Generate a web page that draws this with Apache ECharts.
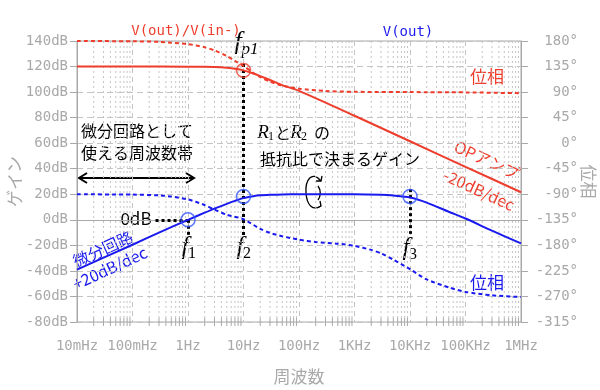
<!DOCTYPE html>
<html><head><meta charset="utf-8">
<script src="https://cdn.jsdelivr.net/npm/echarts@6/dist/echarts.min.js"></script>
<style>html,body{margin:0;padding:0;background:#fff}#c{width:600px;height:390px}</style>
</head><body><div id="c"></div>
<script>
// ---- data ----
const freqTickLabels = ['10mHz','100mHz','1Hz','10Hz','100Hz','1KHz','10KHz','100KHz','1MHz'];
const opGainFreq = [0.01, 0.1, 1, 2, 3, 5, 7, 10, 15, 20, 30, 50, 100, 1000, 1e4, 1e5, 1e6];
const opGainDb   = [120, 120, 119.9, 119.8, 119.6, 119, 118.3, 117, 114.5, 112.5, 109.5, 105.5, 101, 81.5, 61.5, 41.5, 21.6];
const opPhaseFreq = [0.01, 0.1, 0.3, 0.5, 1, 2, 3, 5, 7, 10, 15, 20, 30, 50, 100, 300, 1000, 1e4, 1e5, 1e6];
const opPhaseDeg  = [180, 179.5, 178.5, 177, 174.5, 169, 163.5, 153.5, 145, 136, 124, 116.5, 108.5, 101.5, 96, 92, 90.5, 90, 89.5, 88];
const outGainFreq = [0.01, 0.1, 0.3, 1, 2, 3, 5, 7, 10, 15, 20, 30, 50, 100, 1000, 3000, 5000, 1e4, 2e4, 5e4, 1e5, 3e5, 1e6];
const outGainDb   = [-39, -19.5, -10, 0, 5.6, 8.8, 12.5, 14.8, 17, 18.5, 19.2, 19.6, 19.9, 20, 20, 19.6, 19, 17.5, 13.5, 6.3, 1, -8.5, -18.5];
const outPhaseFreq = [0.01, 0.1, 0.3, 0.5, 1, 2, 3, 5, 10, 20, 30, 50, 100, 200, 500, 1000, 2000, 3000, 5000, 1e4, 2e4, 5e4, 1e5, 3e5, 1e6];
const outPhaseDeg  = [-90, -90.6, -92, -94, -99, -109, -117, -126, -134, -151, -158, -164, -170, -174, -177, -181, -188, -194, -205, -222, -240, -254, -262, -268, -271];
const opMarker = [[10, 117]];
const outMarkers = [[1, 0], [10, 18.3], [10000, 18.3]];
// ---- style ----
const RED = '#ee3d2c', BLUE = '#1a1aee', GRAY = '#a9a9a9', GRID = '#c4c4c4';
const MONO = 'DejaVu Sans Mono', JP = 'Noto Sans CJK JP', SERIF = 'Liberation Serif';

const minorFreqs = [];
for (let e = -2; e < 6; e++) for (let k = 2; k <= 9; k++) minorFreqs.push([k * Math.pow(10, e), 140]);

function zip(a, b) { return a.map((v, i) => [v, b[i]]); }

const chart = echarts.init(document.getElementById('c'));
const txt = (text, x, y, o) => Object.assign({
  type: 'text', x: x, y: y, silent: true,
  style: Object.assign({ text: text, fill: '#000', font: '16px "' + JP + '"', align: 'center', verticalAlign: 'middle' }, o || {})
});
const dotted = { color: '#000', width: 3, type: [3, 3] };
const curve = (x1, y1, c1x, c1y, c2x, c2y, x2, y2) => ({ type: 'bezierCurve', silent: true,
  shape: { x1: x1, y1: y1, cpx1: c1x, cpy1: c1y, cpx2: c2x, cpy2: c2y, x2: x2, y2: y2 },
  style: { stroke: '#000', lineWidth: 1.3, fill: null } });
const lineSeries = (fx, vy, axis, color, dashed) => ({
  type: 'line', yAxisIndex: axis, data: zip(fx, vy), symbol: 'none', smooth: 0.25, z: 5,
  lineStyle: { color: color, width: 2, type: dashed ? [4, 3] : 'solid' }
});

chart.setOption({
  animation: false,
  grid: { left: 77, right: 79, top: 41, bottom: 68, outerBoundsMode: 'none', containLabel: false,
    show: true, borderColor: GRAY, borderWidth: 1 },
  xAxis: {
    type: 'log', logBase: 10, min: 0.01, max: 1e6,
    name: '周波数', nameLocation: 'middle', nameGap: 46, nameMoveOverlap: false,
    nameTextStyle: { color: GRAY, fontFamily: JP, fontSize: 17 },
    axisLine: { lineStyle: { color: GRAY } },
    axisTick: { length: 6, lineStyle: { color: GRAY } },
    axisLabel: { color: GRAY, fontFamily: MONO, fontSize: 14, margin: 17,
      formatter: v => freqTickLabels[Math.round(Math.log10(v)) + 2] },
    splitLine: { show: true, lineStyle: { color: GRID, type: [5, 4] } }
  },
  yAxis: [{
    type: 'value', min: -80, max: 140, interval: 20,
    name: 'ゲイン', nameLocation: 'middle', nameGap: 54, nameRotate: 90, nameMoveOverlap: false,
    nameTextStyle: { color: GRAY, fontFamily: JP, fontSize: 17 },
    axisLine: { show: true, lineStyle: { color: GRAY } },
    axisTick: { show: true, length: 7, lineStyle: { color: GRAY } },
    axisLabel: { color: GRAY, fontFamily: MONO, fontSize: 14, margin: 9, formatter: v => v + 'dB' },
    splitLine: { show: true, lineStyle: { color: GRID, type: [6, 4] } }
  }, {
    type: 'value', min: -315, max: 180, interval: 45, position: 'right',
    name: '位相', nameLocation: 'middle', nameGap: 59, nameRotate: -90, nameMoveOverlap: false,
    nameTextStyle: { color: GRAY, fontFamily: JP, fontSize: 17 },
    axisLine: { show: true, lineStyle: { color: GRAY } },
    axisTick: { show: true, length: 7, lineStyle: { color: GRAY } },
    axisLabel: { color: GRAY, fontFamily: MONO, fontSize: 14, margin: 57, align: 'right', formatter: v => v + '°' },
    splitLine: { show: false }
  }],
  series: [
    { type: 'custom', silent: true, z: 1, xAxisIndex: 0, yAxisIndex: 0, data: minorFreqs,
      renderItem: (params, api) => {
        const top = api.coord([api.value(0), 140]);
        const bot = api.coord([api.value(0), -80]);
        return { type: 'group', children: [
          { type: 'line', shape: { x1: top[0], y1: top[1], x2: bot[0], y2: bot[1] },
            style: { stroke: GRID, lineWidth: 1, lineDash: [2, 3] } },
          { type: 'line', shape: { x1: bot[0], y1: bot[1] - 4, x2: bot[0], y2: bot[1] + 4 },
            style: { stroke: GRAY, lineWidth: 1 } }
        ] };
      } },
    lineSeries(opGainFreq, opGainDb, 0, RED, false),
    lineSeries(opPhaseFreq, opPhaseDeg, 1, RED, true),
    lineSeries(outGainFreq, outGainDb, 0, BLUE, false),
    lineSeries(outPhaseFreq, outPhaseDeg, 1, BLUE, true),
    { type: 'line', yAxisIndex: 0, data: [], symbol: 'none', z: 4,
      markLine: { silent: true, symbol: 'none', label: { show: false }, lineStyle: dotted,
        data: [
          [{ coord: [10, 122] }, { coord: [10, -13] }],
          [{ coord: [1, 0] }, { coord: [1, -13] }],
          [{ coord: [10000, 24] }, { coord: [10000, -11] }],
          [{ coord: [0.26, 0] }, { coord: [1, 0] }]
        ] } },
    { type: 'scatter', yAxisIndex: 0, data: opMarker, symbol: 'circle', symbolSize: 14, z: 6,
      itemStyle: { color: 'rgba(0,0,0,0)', borderColor: RED, borderWidth: 1.5 } },
    { type: 'scatter', yAxisIndex: 0, data: outMarkers, symbol: 'circle', symbolSize: 14, z: 6,
      itemStyle: { color: 'rgba(0,0,0,0)', borderColor: '#3355ff', borderWidth: 1.5 } }
  ],
  graphic: [
    txt('V(out)/V(in-)', 186, 31, { fill: RED, font: '14px "' + MONO + '"' }),
    txt('V(out)', 408, 32, { fill: BLUE, font: '14px "' + MONO + '"' }),
    txt('f', 238, 42, { font: 'italic 26px "' + SERIF + '"' }),
    txt('p1', 250, 50, { font: 'italic 17px "' + SERIF + '"' }),
    txt('f', 185, 247, { font: 'italic 26px "' + SERIF + '"' }),
    txt('1', 192, 254, { font: '16px "' + SERIF + '"' }),
    txt('f', 240, 247, { font: 'italic 26px "' + SERIF + '"' }),
    txt('2', 247, 254, { font: '16px "' + SERIF + '"' }),
    txt('f', 406, 248, { font: 'italic 26px "' + SERIF + '"' }),
    txt('3', 413, 255, { font: '16px "' + SERIF + '"' }),
    txt('0dB', 136, 219, { font: '17px "' + JP + '"' }),
    txt('微分回路として', 81, 131, { align: 'left' }),
    txt('使える周波数帯', 81, 153, { align: 'left' }),
    txt('R', 263, 133, { font: 'italic 19px "' + SERIF + '"' }),
    txt('1', 271, 137, { font: '12px "' + SERIF + '"' }),
    txt('と', 283, 133),
    txt('R', 296, 133, { font: 'italic 19px "' + SERIF + '"' }),
    txt('2', 304, 137, { font: '12px "' + SERIF + '"' }),
    txt('の', 322, 133),
    txt('抵抗比で決まるゲイン', 260, 159, { align: 'left' }),
    txt('位相', 487, 77, { fill: RED, font: '17px "' + JP + '"' }),
    txt('位相', 487, 283, { fill: BLUE, font: '17px "' + JP + '"' }),
    Object.assign(txt('OPアンプ', 487, 160, { fill: RED, font: '16px "' + JP + '"' }), { rotation: -0.43 }),
    Object.assign(txt('-20dB/dec', 479, 190, { fill: RED, font: '16px "' + JP + '"' }), { rotation: -0.43 }),
    Object.assign(txt('微分回路', 103, 249, { fill: BLUE, font: '16px "' + JP + '"' }), { rotation: 0.43 }),
    Object.assign(txt('+20dB/dec', 110, 268, { fill: BLUE, font: '16px "' + JP + '"' }), { rotation: 0.43 }),
    { type: 'polyline', silent: true, shape: { points: [[79, 178], [194, 178]] }, style: { stroke: '#000', lineWidth: 2 } },
    { type: 'polyline', silent: true, shape: { points: [[87, 173], [79, 178], [87, 183]] }, style: { stroke: '#000', lineWidth: 2, fill: null } },
    { type: 'polyline', silent: true, shape: { points: [[186, 173], [194, 178], [186, 183]] }, style: { stroke: '#000', lineWidth: 2, fill: null } },
    curve(321, 181, 312, 170, 305, 180, 306, 193),
    curve(306, 193, 307, 206, 313, 211, 321, 206),
    curve(318, 186, 321, 190, 321, 196, 318, 200),
    { type: 'polyline', silent: true, shape: { points: [[316, 181], [321, 181], [322, 176]] }, style: { stroke: '#000', lineWidth: 1.3, fill: null } },
    { type: 'polyline', silent: true, shape: { points: [[317, 208], [321, 206], [320, 201]] }, style: { stroke: '#000', lineWidth: 1.3, fill: null } }
  ]
});
</script></body></html>
